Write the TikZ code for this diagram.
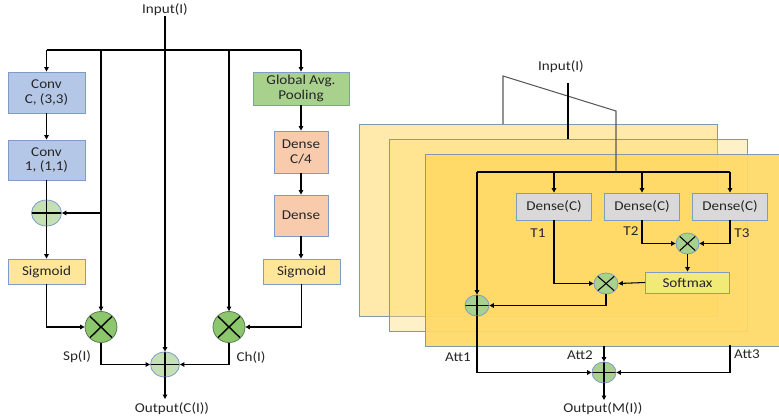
\documentclass[tikz,border=0pt]{standalone}
\usepackage{fontspec}
\setmainfont{Carlito}[FakeStretch=1.12]
\usetikzlibrary{shapes.geometric,arrows.meta}
\definecolor{bordc}{HTML}{7F9BC8}
\definecolor{convblue}{HTML}{B4C7E7}
\definecolor{gapgreen}{HTML}{A9D18E}
\definecolor{denseor}{HTML}{F8CBAD}
\definecolor{sigyel}{HTML}{FFE699}
\definecolor{dgray}{HTML}{D9D9D9}
\definecolor{softyel}{HTML}{F1EA77}
\definecolor{addgreen}{HTML}{C5E0B4}
\definecolor{mulgreen}{HTML}{8CC66D}
\definecolor{mulbord}{HTML}{5A7A50}
\definecolor{rgreen}{HTML}{A9D18E}
\definecolor{layerc}{HTML}{FFD966}
\definecolor{layerb}{HTML}{8497B0}
\definecolor{brackc}{HTML}{595959}
\definecolor{txtc}{HTML}{262626}
\begin{document}
\begin{tikzpicture}[x=1pt,y=-1pt,
  font=\fontsize{13.5}{14.5}\selectfont, text=txtc,
  line/.style={line width=1.05pt},
  conn/.style={line width=1.05pt,-{Triangle[length=4.5pt,width=4.5pt]}},
  box/.style={draw=bordc,line width=0.9pt,align=center,inner sep=0pt,minimum width=77pt},
  addop/.style={ellipse,draw=bordc,line width=0.8pt,inner sep=0pt,
    path picture={\draw[black,line width=1.05pt] (path picture bounding box.north) -- (path picture bounding box.south)
      (path picture bounding box.west) -- (path picture bounding box.east);}},
  mulop/.style={ellipse,draw=bordc,line width=0.8pt,inner sep=0pt,
    path picture={\draw[black,line width=1.05pt] (path picture bounding box.north west) -- (path picture bounding box.south east)
      (path picture bounding box.north east) -- (path picture bounding box.south west);}},
  bigmul/.style={mulop,draw=mulbord,fill=mulgreen,minimum width=32pt,minimum height=31pt,
    path picture={\draw[black,line width=1.4pt] (path picture bounding box.north west) -- (path picture bounding box.south east)
      (path picture bounding box.north east) -- (path picture bounding box.south west);}},
  layer/.style={draw=layerb,line width=1pt,fill=layerc},
  lbl/.style={inner sep=0pt}
]
\useasboundingbox (0,0) rectangle (779,420);

% ---------------- left diagram ----------------
\node[lbl] (inL) at (165,10) {Input(I)};
\coordinate (bL) at (46.5,50);
\coordinate (bR) at (301,50);
\coordinate (c1) at (101,50);
\coordinate (c2) at (229,50);
\coordinate (c1m) at (101,213);

\node[box,fill=convblue,minimum height=41pt] (conv1) at (46.5,92.5) {Conv\\C, (3,3)};
\node[box,fill=convblue,minimum height=40pt] (conv2) at (46.5,160) {Conv\\1, (1,1)};
\node[addop,fill=addgreen,minimum width=30pt,minimum height=26pt] (addL) at (46.5,213) {};
\node[box,fill=sigyel,minimum height=25pt] (sigL) at (46.5,271.5) {Sigmoid};
\node[bigmul] (mulL) at (101,327) {};

\node[box,fill=gapgreen,minimum width=96pt,minimum height=33pt] (gap) at (301,88.5) {Global Avg.\\Pooling};
\node[box,fill=denseor,minimum width=54pt,minimum height=42pt] (d1) at (301,152) {Dense\\C/4};
\node[box,fill=denseor,minimum width=54pt,minimum height=41pt] (d2) at (301,215.5) {Dense};
\node[box,fill=sigyel,minimum height=25pt] (sigR) at (301.5,271.5) {Sigmoid};
\node[bigmul] (mulR) at (229,327) {};

\node[addop,fill=addgreen,minimum width=29pt,minimum height=25pt] (sum) at (165,364.5) {};
\coordinate (oendL) at (165,399);
\node[lbl] (outL) at (172,409) {Output(C(I))};
\node[lbl] (spl) at (77,357) {Sp(I)};
\node[lbl] (chl) at (251,357) {Ch(I)};

\draw[conn] (inL) -- (sum);
\draw[line] (bL) -- (bR);
\draw[conn] (bL) -- (conv1);
\draw[conn] (bR) -- (gap);
\draw[conn] (c1) -- (mulL);
\draw[conn] (c2) -- (mulR);
\draw[conn] (c1m) -- (addL);
\draw[conn] (conv1) -- (conv2);
\draw[line] (conv2.south) -- (addL.north);
\draw[conn] (addL) -- (sigL);
\draw[conn] (sigL.south) |- (mulL.west);
\draw[conn] (mulL.south) |- (sum.west);
\draw[conn] (gap.south -| d1) -- (d1);
\draw[conn] (d1) -- (d2);
\draw[conn] (d2.south) -- (d2.south |- sigR.north);
\draw[conn] (sigR.south) |- (mulR.east);
\draw[conn] (mulR.south) |- (sum.east);
\draw[conn] (sum) -- (oendL);

% ---------------- right diagram ----------------
\begin{scope}
\clip (0,0) rectangle (779,420);
\draw[layer,fill opacity=0.54] (359,124) rectangle (717,316);
\draw[layer,fill opacity=0.37] (389,139) rectangle (747,331);
\draw[layer,fill opacity=0.93] (425,154) rectangle (790,346);
\end{scope}

\node[lbl] (inR) at (561,67) {Input(I)};
\coordinate (inRs) at (568,83);
\coordinate (inRe) at (568,139);
\coordinate (brA) at (503,124);
\coordinate (brB) at (503,76);
\coordinate (brC) at (616,111);
\coordinate (brD) at (616,172);
\draw[line,brackc] (brA) -- (brB) -- (brC) -- (brD);
\draw[line] (inRs) -- (inRe);

\coordinate (hb1) at (477,172);
\coordinate (hb2) at (554,172);
\coordinate (hb3) at (642,172);
\coordinate (hb4) at (730,172);

\node[box,fill=dgray,minimum width=75pt,minimum height=27pt] (dC1) at (554,206.5) {Dense(C)};
\node[box,fill=dgray,minimum width=75pt,minimum height=27pt] (dC2) at (642,206.5) {Dense(C)};
\node[box,fill=dgray,minimum width=75pt,minimum height=27pt] (dC3) at (730,206.5) {Dense(C)};
\node[mulop,fill=rgreen,minimum width=23pt,minimum height=21pt] (mul1) at (687.5,243.5) {};
\node[box,fill=softyel,minimum width=84pt,minimum height=21pt] (soft) at (687.5,282.5) {Softmax};
\node[mulop,fill=rgreen,minimum width=24pt,minimum height=21pt] (mul2) at (606,283.5) {};
\node[addop,fill=rgreen,minimum width=24pt,minimum height=21pt] (addR) at (477,305.5) {};
\node[addop,fill=rgreen,minimum width=24pt,minimum height=21pt] (fin) at (604,372.5) {};
\coordinate (att2s) at (604,346);
\coordinate (att3s) at (730,345);
\coordinate (oendR) at (604,400);
\node[lbl] (outR) at (603,409) {Output(M(I))};

\node[lbl] (t1) at (538,233) {T1};
\node[lbl] (t2) at (631,231) {T2};
\node[lbl] (t3) at (742,233) {T3};
\node[lbl] (a1) at (458,357) {Att1};
\node[lbl] (a2) at (580,355) {Att2};
\node[lbl] (a3) at (747,354) {Att3};

\draw[line] (hb1) -- (hb4);
\draw[conn] (hb2) -- (dC1);
\draw[conn] (hb3) -- (dC2);
\draw[conn] (hb4) -- (dC3);
\draw[conn] (hb1) -- (addR);
\draw[conn] (dC2.south) |- (mul1.west);
\draw[conn] (dC3.south) |- (mul1.east);
\draw[conn] (mul1) -- (soft);
\draw[conn] (dC1.south) |- (mul2.west);
\draw[conn] (soft.west) -- (mul2.east);
\draw[conn] (mul2.south) |- (addR.east);
\draw[conn] (addR.south) |- (fin.west);
\draw[conn] (att2s) -- (fin);
\draw[conn] (att3s) |- (fin.east);
\draw[conn] (fin) -- (oendR);
\end{tikzpicture}
\end{document}
